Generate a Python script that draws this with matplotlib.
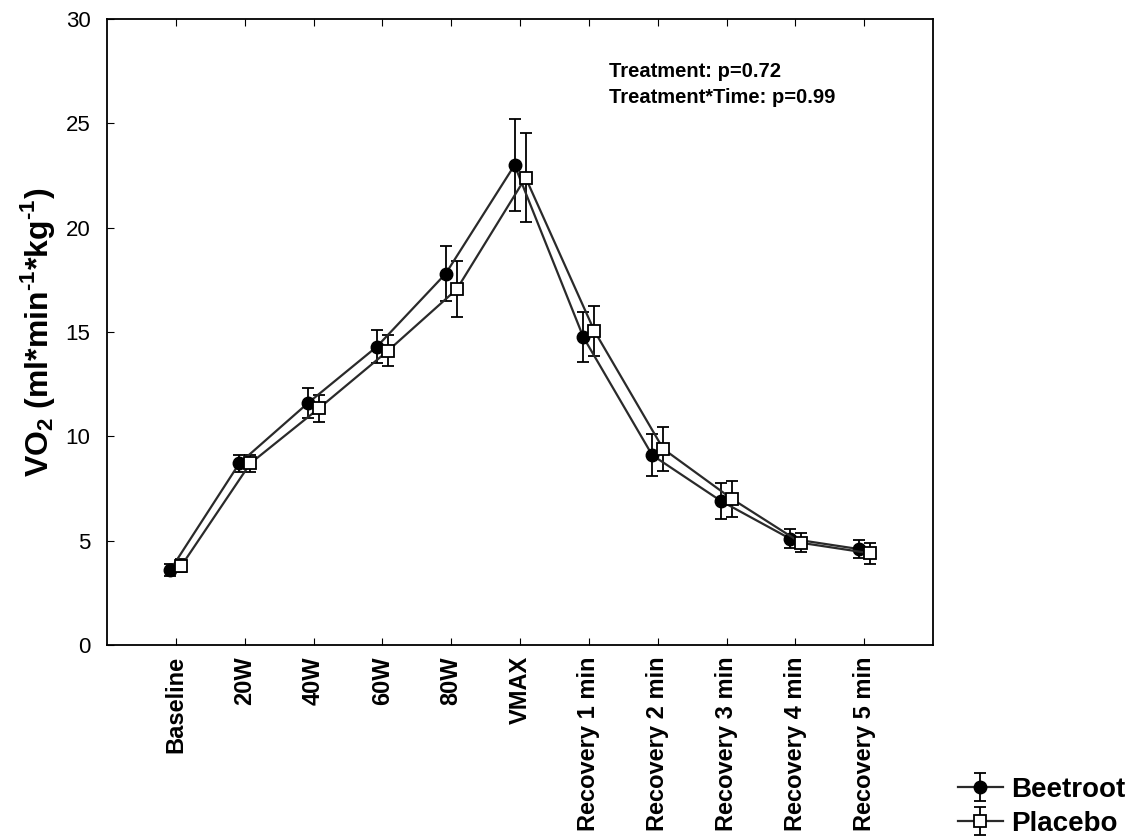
import numpy as np
import matplotlib
matplotlib.use('Agg')
import matplotlib.pyplot as plt

plt.rcParams['font.family'] = ['Liberation Sans', 'DejaVu Sans']
plt.rcParams['mathtext.fontset'] = 'custom'
plt.rcParams['mathtext.rm'] = 'Liberation Sans:bold'
plt.rcParams['mathtext.bf'] = 'Liberation Sans:bold'

categories = ['Baseline', '20W', '40W', '60W', '80W', 'VMAX',
              'Recovery 1 min', 'Recovery 2 min', 'Recovery 3 min',
              'Recovery 4 min', 'Recovery 5 min']
beetroot = [3.6, 8.7, 11.6, 14.3, 17.8, 23.0, 14.75, 9.1, 6.9, 5.1, 4.6]
beetroot_err = [0.3, 0.4, 0.7, 0.8, 1.3, 2.2, 1.2, 1.0, 0.85, 0.45, 0.45]
placebo = [3.8, 8.7, 11.35, 14.1, 17.05, 22.4, 15.05, 9.4, 7.0, 4.9, 4.4]
placebo_err = [0.3, 0.4, 0.65, 0.75, 1.35, 2.15, 1.2, 1.05, 0.85, 0.45, 0.5]

x = np.arange(len(categories))
off = 0.08

fig = plt.figure(figsize=(11.39, 8.39), dpi=100)
ax = fig.add_axes([0.094, 0.2312, 0.7252, 0.7461])

line_col = '#2a2a2a'
h1 = ax.errorbar(x - off, beetroot, yerr=beetroot_err, color=line_col, lw=1.6,
                 marker='o', ms=9, mfc='black', mec='black',
                 ecolor='black', elinewidth=1.3, capsize=4, capthick=1.3,
                 label='Beetroot')
h2 = ax.errorbar(x + off, placebo, yerr=placebo_err, color=line_col, lw=1.6,
                 marker='s', ms=8, mfc='white', mec='black', mew=1.3,
                 ecolor='black', elinewidth=1.3, capsize=4, capthick=1.3,
                 label='Placebo')

ax.set_xlim(-1, 11)
ax.set_ylim(0, 30)
ax.set_yticks(np.arange(0, 31, 5))
ax.set_xticks(x)
ax.set_xticklabels(categories, rotation=90, fontweight='bold', fontsize=17)
ax.tick_params(axis='y', direction='in', labelsize=16, length=5, pad=12)
ax.tick_params(axis='x', direction='in', top=True, length=5, pad=8)
for s in ax.spines.values():
    s.set_linewidth(1.3)

ax.set_ylabel(r'VO$_2$ (ml*min$^{\text{-}1}$*kg$^{\text{-}1}$)', fontsize=23,
              fontweight='bold', labelpad=6)

ax.text(0.608, 0.917, 'Treatment: p=0.72', transform=ax.transAxes,
        fontsize=14.5, fontweight='bold', va='center')
ax.text(0.608, 0.874, 'Treatment*Time: p=0.99', transform=ax.transAxes,
        fontsize=14.5, fontweight='bold', va='center')

fig.legend(handles=[h1, h2], loc='lower right', bbox_to_anchor=(1.0, -0.014),
           frameon=False, prop={'weight': 'bold', 'size': 20},
           handlelength=1.6, handletextpad=0.3, labelspacing=0.3,
           borderaxespad=0.1)

fig.savefig('out.png', dpi=100)
